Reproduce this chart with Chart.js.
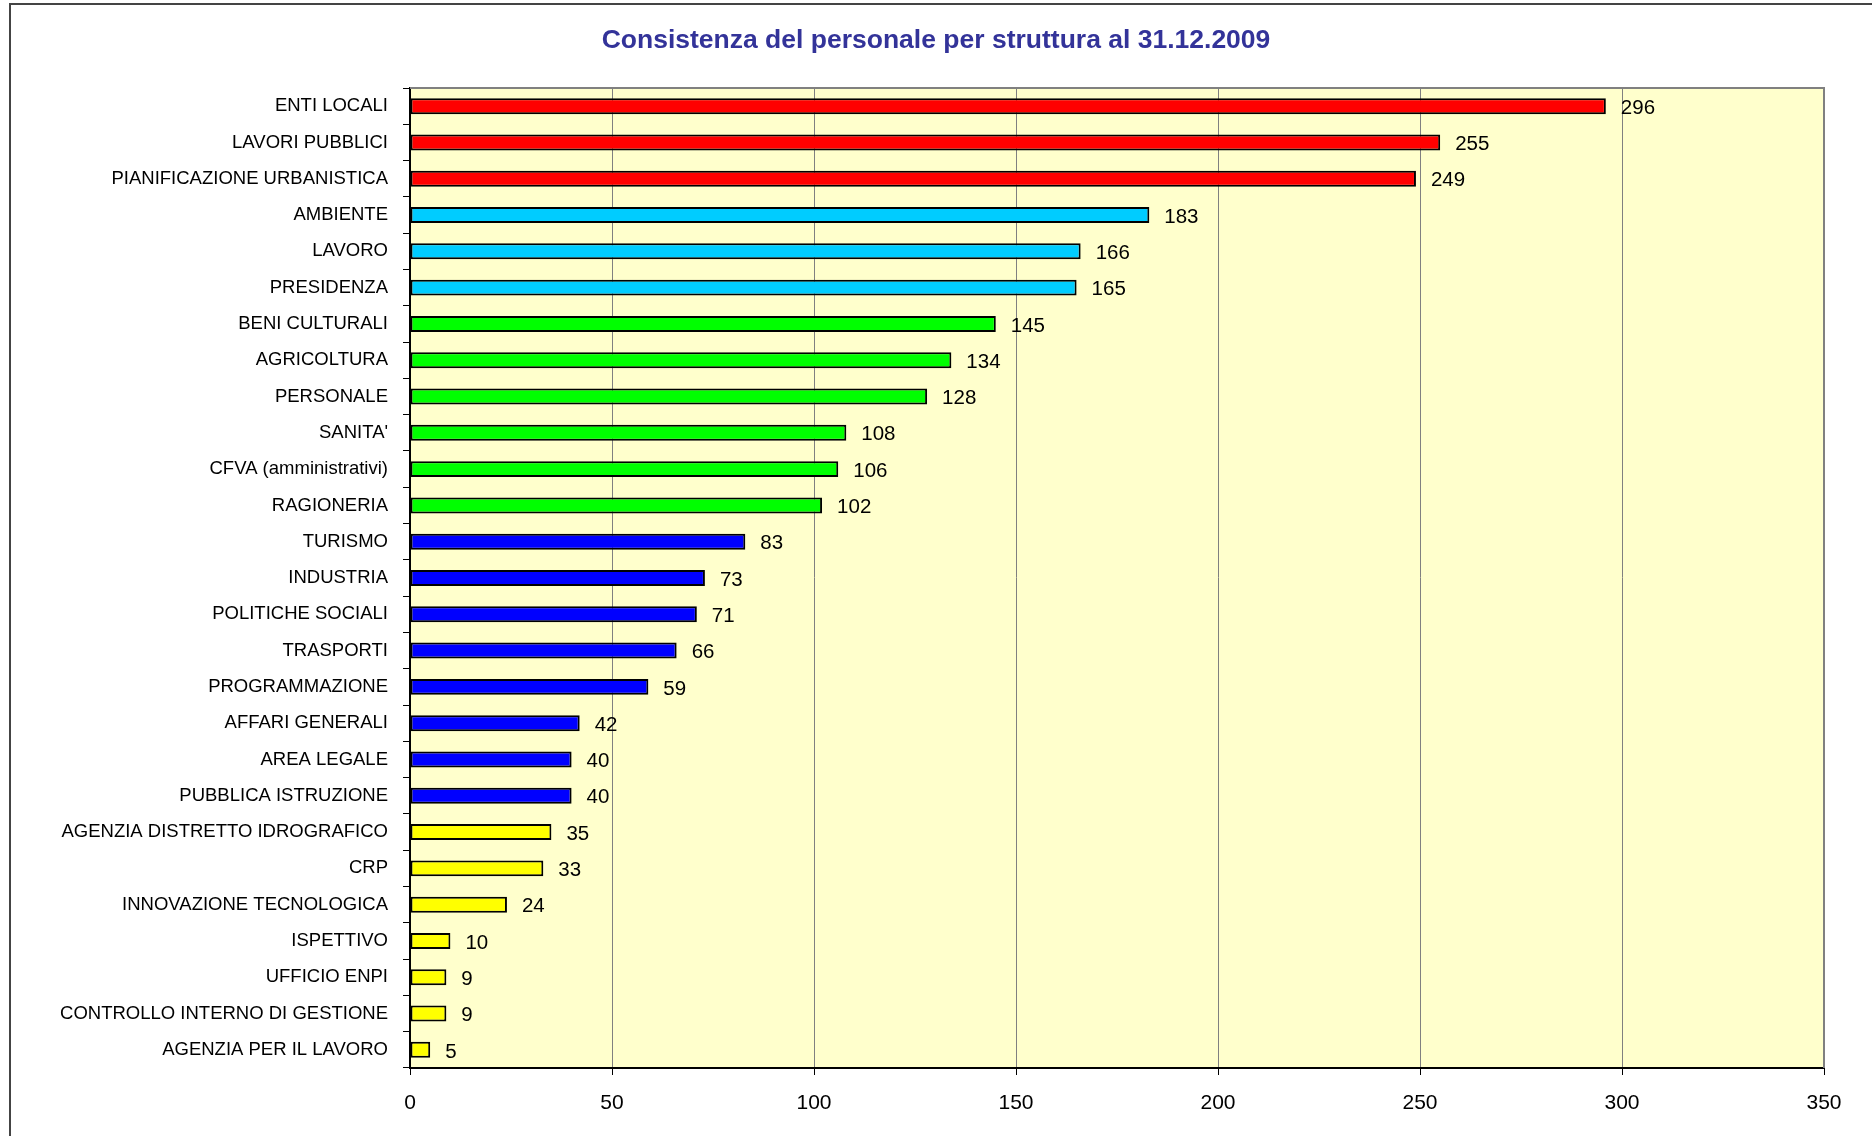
<!DOCTYPE html>
<html lang="it">
<head>
  <meta charset="UTF-8" />
  <title>Consistenza del personale per struttura al 31.12.2009</title>
  <script src="https://cdn.jsdelivr.net/npm/chart.js"></script>
  <style>
    html, body { margin: 0; padding: 0; background: #fff; }
    #wrap { width: 1872px; height: 1136px; position: relative; }
  </style>
</head>
<body>
  <div id="wrap"><canvas id="staffChart"></canvas></div>

  <script>
    // dati
    const categories = [
      'ENTI LOCALI', 'LAVORI PUBBLICI', 'PIANIFICAZIONE URBANISTICA',
      'AMBIENTE', 'LAVORO', 'PRESIDENZA',
      'BENI CULTURALI', 'AGRICOLTURA', 'PERSONALE', "SANITA'", 'CFVA (amministrativi)', 'RAGIONERIA',
      'TURISMO', 'INDUSTRIA', 'POLITICHE SOCIALI', 'TRASPORTI', 'PROGRAMMAZIONE', 'AFFARI GENERALI', 'AREA LEGALE', 'PUBBLICA ISTRUZIONE',
      'AGENZIA DISTRETTO IDROGRAFICO', 'CRP', 'INNOVAZIONE TECNOLOGICA', 'ISPETTIVO', 'UFFICIO ENPI', 'CONTROLLO INTERNO DI GESTIONE', 'AGENZIA PER IL LAVORO'
    ];
    const staff = [296, 255, 249, 183, 166, 165, 145, 134, 128, 108, 106, 102, 83, 73, 71, 66, 59, 42, 40, 40, 35, 33, 24, 10, 9, 9, 5];
    const xTicks = [0, 50, 100, 150, 200, 250, 300, 350];
    const chartTitle = 'Consistenza del personale per struttura al 31.12.2009';

    // colori per fascia
    const RED = '#ff0000', CYAN = '#00ccff', GREEN = '#00ff00', BLUE = '#0000ff', YELLOW = '#ffff00';
    const barColors = [
      RED, RED, RED,
      CYAN, CYAN, CYAN,
      GREEN, GREEN, GREEN, GREEN, GREEN, GREEN,
      BLUE, BLUE, BLUE, BLUE, BLUE, BLUE, BLUE, BLUE,
      YELLOW, YELLOW, YELLOW, YELLOW, YELLOW, YELLOW, YELLOW
    ];

    const FONT = '"Liberation Sans", Arial, sans-serif';

    const frameAndBg = {
      id: 'frameAndBg',
      beforeDraw(chart) {
        const { ctx, chartArea: a } = chart;
        ctx.save();
        // cornice esterna
        ctx.strokeStyle = '#444';
        ctx.lineWidth = 2;
        ctx.beginPath();
        ctx.moveTo(10, chart.height + 5);
        ctx.lineTo(10, 4);
        ctx.lineTo(chart.width + 5, 4);
        ctx.stroke();
        // titolo
        ctx.fillStyle = '#333399';
        ctx.font = 'bold 26.5px ' + FONT;
        ctx.textAlign = 'center';
        ctx.textBaseline = 'middle';
        ctx.fillText(chartTitle, chart.width / 2, 41);
        // sfondo area grafico
        ctx.fillStyle = '#ffffcc';
        ctx.fillRect(a.left, a.top, a.right - a.left, a.bottom - a.top);
        ctx.restore();
      },
      afterDraw(chart) {
        const { ctx, chartArea: a } = chart;
        ctx.save();
        ctx.strokeStyle = '#808080';
        ctx.lineWidth = 2;
        ctx.beginPath();
        ctx.moveTo(a.left, a.top);
        ctx.lineTo(a.right, a.top);
        ctx.lineTo(a.right, a.bottom);
        ctx.stroke();
        ctx.restore();
      }
    };

    const valueLabels = {
      id: 'valueLabels',
      afterDatasetsDraw(chart) {
        const { ctx } = chart;
        const meta = chart.getDatasetMeta(0);
        ctx.save();
        ctx.font = '20.5px ' + FONT;
        ctx.fillStyle = '#000';
        ctx.textAlign = 'left';
        ctx.textBaseline = 'middle';
        meta.data.forEach((bar, i) => {
          ctx.fillText(String(staff[i]), bar.x + 15, bar.y + 2);
        });
        ctx.restore();
      }
    };

    new Chart(document.getElementById('staffChart'), {
      type: 'bar',
      data: {
        labels: categories,
        datasets: [{
          data: staff,
          backgroundColor: barColors,
          borderColor: '#000',
          borderWidth: 2,
          borderSkipped: false,
          barPercentage: 0.44,
          categoryPercentage: 1
        }]
      },
      options: {
        indexAxis: 'y',
        responsive: true,
        maintainAspectRatio: false,
        animation: false,
        layout: { padding: { left: 0, right: 48, top: 88, bottom: 0 } },
        plugins: {
          legend: { display: false },
          tooltip: { enabled: false },
          title: { display: false }
        },
        scales: {
          x: {
            min: 0,
            max: 350,
            afterBuildTicks(scale) {
              scale.ticks = xTicks.map(v => ({ value: v }));
            },
            afterFit(scale) { scale.height = 68; },
            grid: {
              color: '#808080',
              lineWidth: 1,
              tickLength: 7,
              tickColor: '#000'
            },
            border: { color: '#000', width: 2 },
            ticks: {
              color: '#000',
              font: { family: FONT, size: 21 },
              padding: 16,
              maxRotation: 0
            }
          },
          y: {
            afterFit(scale) { scale.width = 410; },
            grid: {
              drawOnChartArea: false,
              tickLength: 7,
              color: '#000'
            },
            border: { color: '#000', width: 2 },
            ticks: {
              color: '#000',
              font: { family: FONT, size: 18.5 },
              padding: 15,
              autoSkip: false
            }
          }
        }
      },
      plugins: [frameAndBg, valueLabels]
    });
  </script>
</body>
</html>
